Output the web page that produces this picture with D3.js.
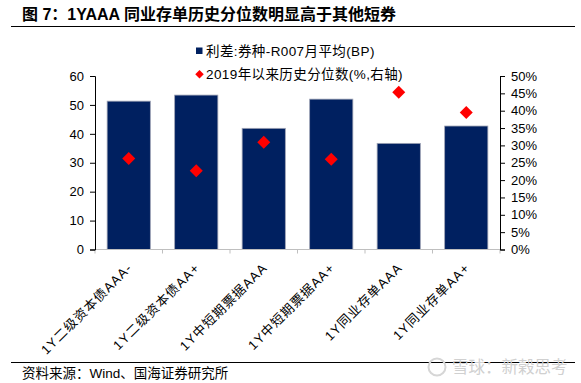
<!DOCTYPE html>
<html>
<head>
<meta charset="utf-8">
<script src="https://cdn.jsdelivr.net/npm/d3@7"></script>
<style>
  body { margin: 0; background: #fff; }
  svg { display: block; font-family: "Liberation Sans", Arial, "Noto Sans CJK SC", sans-serif; }
</style>
</head>
<body>
<svg id="chart" width="581" height="383"></svg>
<script>
var categories = ["1Y二级资本债AAA-", "1Y二级资本债AA+", "1Y中短期票据AAA", "1Y中短期票据AA+", "1Y同业存单AAA", "1Y同业存单AA+"];
var spreadBP = [51.3, 53.4, 41.9, 52.0, 36.7, 42.7];
var percentile = [0.262, 0.227, 0.309, 0.260, 0.453, 0.395];
var leftTicks = [0, 10, 20, 30, 40, 50, 60];
var rightTicks = [0, 0.05, 0.10, 0.15, 0.20, 0.25, 0.30, 0.35, 0.40, 0.45, 0.50];
var legendLabels = ["利差:券种-R007月平均(BP)", "2019年以来历史分位数(%,右轴)"];

var svg = d3.select("#chart");
var cjk = "\"Liberation Sans\", \"Noto Sans CJK SC\", sans-serif";
var navy = "#002060";
var red = "#ff0000";

var plot = { left: 95, right: 500, top: 76, bottom: 249.5 };

var x = d3.scaleBand()
    .domain(categories)
    .range([plot.left, plot.right])
    .paddingInner(0.36)
    .paddingOuter(0.18);

var xCell = d3.scaleBand()
    .domain(categories)
    .range([plot.left, plot.right]);

var yLeft = d3.scaleLinear().domain([0, 60]).range([plot.bottom, plot.top]);
var yRight = d3.scaleLinear().domain([0, 0.5]).range([plot.bottom, plot.top]);

// title + rules
svg.append("text")
    .attr("x", 22).attr("y", 20)
    .attr("font-size", 16).attr("font-weight", "bold")
    .style("font-family", cjk)
    .text("图 7：1YAAA 同业存单历史分位数明显高于其他短券");

svg.append("line")
    .attr("x1", 11).attr("x2", 575).attr("y1", 26.5).attr("y2", 26.5)
    .attr("stroke", "#000").attr("stroke-width", 1);

svg.append("line")
    .attr("x1", 11).attr("x2", 575).attr("y1", 362.5).attr("y2", 362.5)
    .attr("stroke", "#000").attr("stroke-width", 1);

svg.append("text")
    .attr("x", 22).attr("y", 378)
    .attr("font-size", 13.5)
    .style("font-family", cjk)
    .text("资料来源：Wind、国海证券研究所");

// watermark
svg.append("circle")
    .attr("cx", 437).attr("cy", 367).attr("r", 8.5)
    .attr("fill", "none").attr("stroke", "#d6d6d6").attr("stroke-width", 2);
svg.append("text")
    .attr("x", 452).attr("y", 373)
    .attr("font-size", 16.5).attr("fill", "#d0d0d0")
    .style("font-family", cjk)
    .text("雪球：新榖思考");

// bars
svg.selectAll(".bar")
    .data(spreadBP)
  .enter()
    .append("rect")
    .attr("class", "bar")
    .attr("x", function(d, i) { return x(categories[i]); })
    .attr("width", x.bandwidth())
    .attr("y", function(d) { return yLeft(d); })
    .attr("height", function(d) { return yLeft(0) - yLeft(d); })
    .attr("fill", navy)
    .attr("stroke", "#9ea3b5")
    .attr("stroke-width", 0.8);

// diamonds
var diamond = d3.symbol().type(d3.symbolSquare).size(85);
svg.selectAll(".pt")
    .data(percentile)
  .enter()
    .append("path")
    .attr("class", "pt")
    .attr("d", diamond)
    .attr("transform", function(d, i) {
        var cx = x(categories[i]) + x.bandwidth() / 2;
        return "translate(" + cx + "," + yRight(d) + ") rotate(45)";
    })
    .attr("fill", red);

// x axis (grey baseline, downward ticks at cell edges)
var xAxis = svg.append("g").attr("class", "x-axis");
xAxis.append("line")
    .attr("x1", plot.left).attr("x2", plot.right)
    .attr("y1", plot.bottom).attr("y2", plot.bottom)
    .attr("stroke", "#bfbfbf");
var edges = categories.map(function(c) { return xCell(c); }).concat([plot.right]);
xAxis.selectAll(".xt")
    .data(edges)
  .enter()
    .append("line")
    .attr("x1", function(d) { return d; }).attr("x2", function(d) { return d; })
    .attr("y1", plot.bottom).attr("y2", plot.bottom + 4)
    .attr("stroke", "#bfbfbf");

xAxis.selectAll(".xl")
    .data(categories)
  .enter()
    .append("text")
    .attr("transform", function(d) {
        var cx = x(d) + x.bandwidth() / 2 + 1;
        return "translate(" + cx + "," + (plot.bottom + 16) + ") rotate(-45)";
    })
    .attr("text-anchor", "end")
    .attr("dy", "0.35em")
    .attr("font-size", 13)
    .attr("letter-spacing", 1)
    .style("font-family", cjk)
    .text(function(d) { return d; });

// left axis
var gLeft = svg.append("g")
    .attr("transform", "translate(" + plot.left + ",0)")
    .call(d3.axisLeft(yLeft).tickValues(leftTicks).tickSize(5).tickSizeOuter(5).tickPadding(6));

// right axis
var gRight = svg.append("g")
    .attr("transform", "translate(" + plot.right + ",0)")
    .call(d3.axisRight(yRight).tickValues(rightTicks).tickFormat(d3.format(".0%")).tickSize(5).tickSizeOuter(5).tickPadding(6));

[gLeft, gRight].forEach(function(g) {
    g.selectAll("text").attr("font-size", 13).attr("fill", "#000").style("font-family", "\"Liberation Sans\", Arial, sans-serif");
    g.selectAll("line, path").attr("stroke", "#000");
    g.select(".domain").attr("stroke", "#000");
});

// legend
var legend = svg.append("g").attr("class", "legend");
legend.append("rect")
    .attr("x", 196).attr("y", 47.5).attr("width", 6.5).attr("height", 6.5)
    .attr("fill", navy);
legend.append("path")
    .attr("d", d3.symbol().type(d3.symbolSquare).size(36))
    .attr("transform", "translate(199.5,74.3) rotate(45)")
    .attr("fill", red);
legend.selectAll(".lt")
    .data(legendLabels)
  .enter()
    .append("text")
    .attr("x", 206)
    .attr("y", function(d, i) { return 51 + i * 23.5; })
    .attr("dy", "0.35em")
    .attr("font-size", 13.5)
    .attr("letter-spacing", 0.4)
    .style("font-family", cjk)
    .text(function(d) { return d; });
</script>
</body>
</html>
